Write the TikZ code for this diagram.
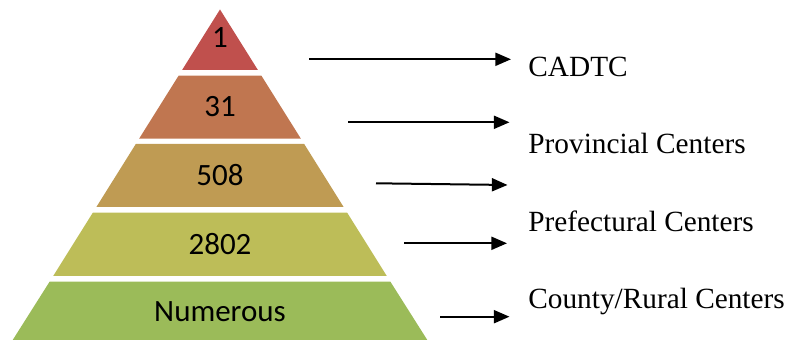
\documentclass[tikz,border=0pt]{standalone}
\usepackage{fontspec}
\setmainfont{Liberation Serif}
\newfontfamily\calib{Carlito}
\usetikzlibrary{arrows.meta}
\definecolor{tA}{RGB}{192,80,77}
\definecolor{tB}{RGB}{192,118,80}
\definecolor{tC}{RGB}{191,155,83}
\definecolor{tD}{RGB}{189,189,88}
\definecolor{tE}{RGB}{155,187,89}
\tikzset{
  tier/.style={draw=none},
  num/.style={font=\calib\fontsize{15.5pt}{18pt}\selectfont, inner sep=0pt},
  lab/.style={font=\fontsize{14.65pt}{17pt}\selectfont, anchor=base west, inner sep=0pt},
  arr/.style={line width=1pt, -{Triangle[length=7.8pt,width=6.5pt]}}
}
\begin{document}
\begin{tikzpicture}[x=0.5pt,y=-0.5pt]
\useasboundingbox (0,0) rectangle (788,340);
% tiers (half-width = 0.626*(y-9.5), centre x=220)
\fill[tA] (220,9.5) -- (257.9,70) -- (182.1,70) -- cycle;
\fill[tB] (178.6,75.7) -- (261.4,75.7) -- (300.9,138.7) -- (139.1,138.7) -- cycle;
\fill[tC] (135.8,144) -- (304.2,144) -- (343.6,207) -- (96.4,207) -- cycle;
\fill[tD] (92.8,212.7) -- (347.2,212.7) -- (386.8,276) -- (53.2,276) -- cycle;
\fill[tE] (49.6,281.7) -- (390.4,281.7) -- (427.3,340) -- (12.7,340) -- cycle;
% numbers
\node[num] (n1) at (220,38) {1};
\node[num] (n2) at (220,106.5) {31};
\node[num] (n3) at (220,175.5) {508};
\node[num] (n4) at (220,243.7) {2802};
\node[num] (n5) at (220,312) {Numerous};
% labels
\node[lab] (l1) at (528,76.7) {CADTC};
\node[lab] (l2) at (528,154) {Provincial Centers};
\node[lab] (l3) at (528,231.7) {Prefectural Centers};
\node[lab] (l4) at (528,308.3) {County/Rural Centers};
% arrows
\coordinate (a1s) at (309.3,59.3);  \coordinate (a1e) at (511,59.3);
\coordinate (a2s) at (348.3,122.3); \coordinate (a2e) at (509.5,122.3);
\coordinate (a3s) at (376,183.3);   \coordinate (a3e) at (507.5,185);
\coordinate (a4s) at (404.3,243.3); \coordinate (a4e) at (507,243.3);
\coordinate (a5s) at (440,316.7);   \coordinate (a5e) at (509.5,316.7);
\draw[arr] (a1s) -- (a1e);
\draw[arr] (a2s) -- (a2e);
\draw[arr] (a3s) -- (a3e);
\draw[arr] (a4s) -- (a4e);
\draw[arr] (a5s) -- (a5e);
\end{tikzpicture}
\end{document}
